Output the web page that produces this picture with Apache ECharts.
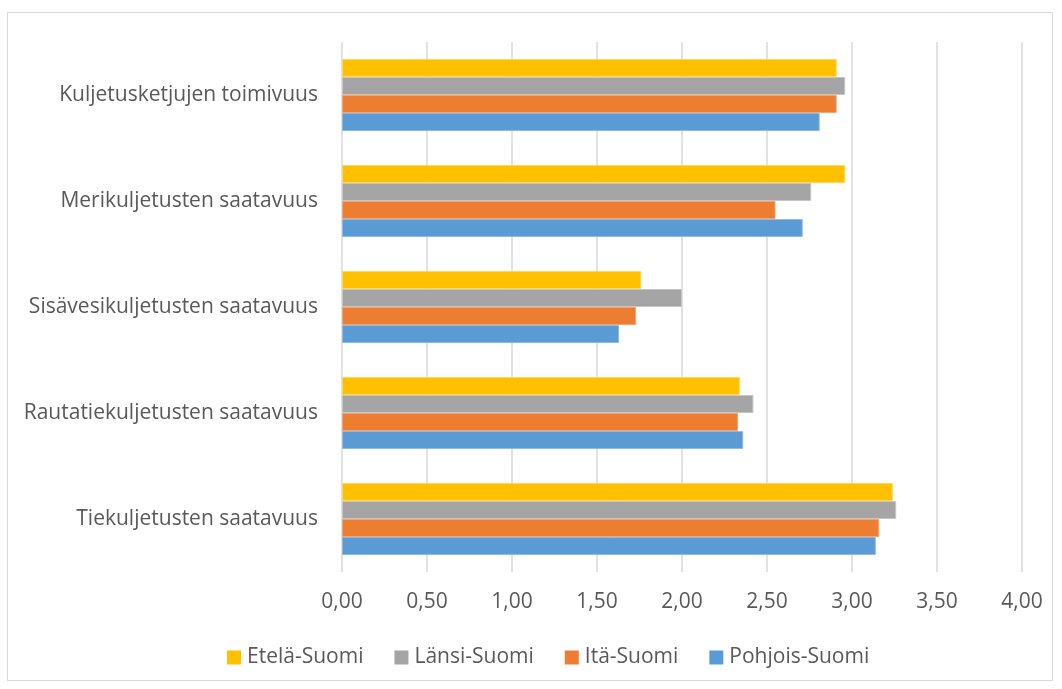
<!DOCTYPE html>
<html>
<head>
<meta charset="utf-8">
<script src="https://cdn.jsdelivr.net/npm/echarts@6/dist/echarts.min.js"></script>
<style>
html,body{margin:0;padding:0;background:#fff;}
#frame{position:absolute;left:7px;top:12px;width:1046px;height:669px;border:1px solid #d9d9d9;box-sizing:border-box;}
#chart{position:absolute;left:0;top:0;width:1062px;height:689px;}
</style>
</head>
<body>
<div id="frame"></div>
<div id="chart"></div>
<script>
// Categories listed bottom to top
const categories = [
  'Tiekuljetusten saatavuus',
  'Rautatiekuljetusten saatavuus',
  'Sisävesikuljetusten saatavuus',
  'Merikuljetusten saatavuus',
  'Kuljetusketjujen toimivuus'
];
const pohjoisSuomi = [3.14, 2.36, 1.63, 2.71, 2.81];
const itaSuomi     = [3.16, 2.33, 1.73, 2.55, 2.91];
const lansiSuomi   = [3.26, 2.42, 2.00, 2.76, 2.96];
const etelaSuomi   = [3.24, 2.34, 1.76, 2.96, 2.91];
const legendOrder = ['Etelä-Suomi', 'Länsi-Suomi', 'Itä-Suomi', 'Pohjois-Suomi'];

const font = '"Open Sans", "Noto Sans", sans-serif';
const textColor = '#595959';

function bar(name, data, color, border) {
  return {
    name: name, type: 'bar', data: data,
    barGap: '0%', barCategoryGap: '32%',
    itemStyle: { color: color, borderColor: border, borderWidth: 1 },
    emphasis: { disabled: true }
  };
}

const chart = echarts.init(document.getElementById('chart'), null, { renderer: 'canvas' });
chart.setOption({
  animation: false,
  textStyle: { fontFamily: font },
  grid: { left: 342, right: 40, top: 42, bottom: 117, containLabel: false },
  xAxis: {
    type: 'value', min: 0, max: 4, interval: 0.5,
    axisLine: { show: false }, axisTick: { show: false },
    splitLine: { show: true, lineStyle: { color: '#d9d9d9', width: 1.5 } },
    axisLabel: {
      color: textColor, fontSize: 21, fontFamily: font, margin: 20,
      formatter: v => v.toFixed(2).replace('.', ',')
    }
  },
  yAxis: {
    type: 'category', data: categories,
    axisLine: { show: false }, axisTick: { show: false },
    axisLabel: { color: textColor, fontSize: 21, fontFamily: font, margin: 24 }
  },
  legend: {
    data: legendOrder,
    left: 227, top: 647, padding: 0,
    itemWidth: 14, itemHeight: 14, itemGap: 31,
    icon: 'rect',
    itemStyle: { borderWidth: 0 },
    textStyle: { color: textColor, fontSize: 21, fontFamily: font, padding: [0, 0, 0, 1] }
  },
  series: [
    bar('Etelä-Suomi', etelaSuomi, '#FFC000', '#ffd659'),
    bar('Länsi-Suomi', lansiSuomi, '#A5A5A5', '#c6c6c6'),
    bar('Itä-Suomi', itaSuomi, '#ED7D31', '#f3a46f'),
    bar('Pohjois-Suomi', pohjoisSuomi, '#5B9BD5', '#8cbbe6')
  ]
});
</script>
</body>
</html>
